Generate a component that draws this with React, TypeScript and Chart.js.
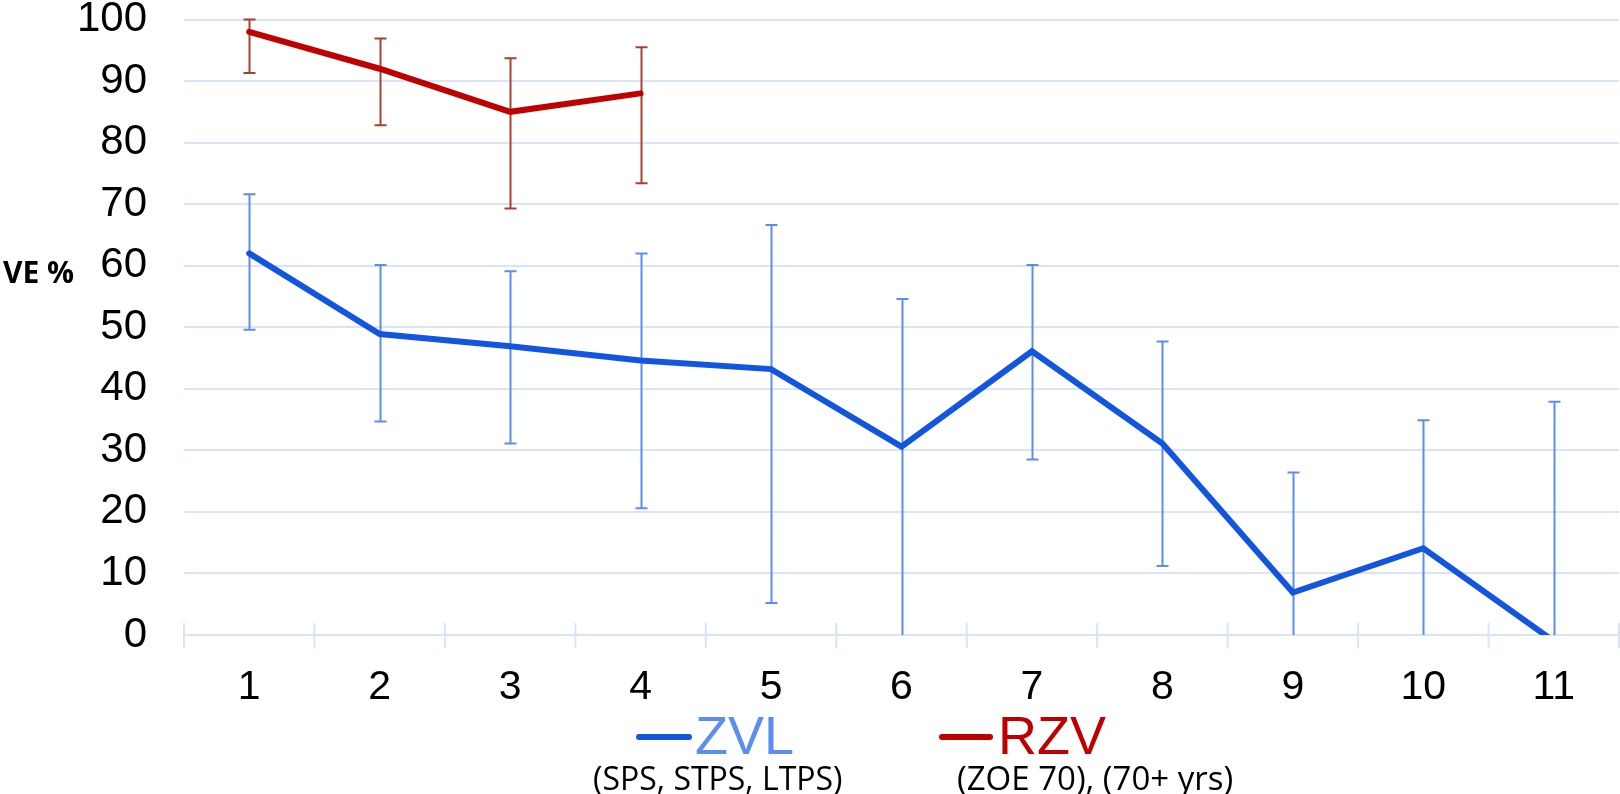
import React, { useEffect, useRef } from 'react';
import { Chart, registerables } from 'chart.js';

Chart.register(...registerables);

// ---- data ----
const categories = ['1', '2', '3', '4', '5', '6', '7', '8', '9', '10', '11'];

const zvlValues = [62.0, 48.9, 46.9, 44.6, 43.2, 30.6, 46.1, 31.1, 6.9, 14.1, -1.0];
const zvlHigh = [71.6, 60.1, 59.1, 62.0, 66.6, 54.6, 60.1, 47.7, 26.4, 34.9, 37.9];
const zvlLow = [49.6, 34.7, 31.1, 20.6, 5.2, -20, 28.5, 11.2, -20, -20, -20];

const rzvValues = [98.0, 92.0, 85.0, 88.0];
const rzvHigh = [100.0, 96.9, 93.7, 95.5];
const rzvLow = [91.3, 82.8, 69.3, 73.4];

const yMin = 0;
const yMax = 100;
const yStep = 10;

const yTitle = 'VE %';
const zvlName = 'ZVL';
const zvlNote = '(SPS, STPS, LTPS)';
const rzvName = 'RZV';
const rzvNote = '(ZOE 70), (70+ yrs)';

// ---- styles ----
const GRID = '#d9e4fb';
const BLUE = '#1256e0';
const BLUE_ERR = '#5b8def';
const LIGHT_BLUE_TEXT = '#5b8ef0';
const RED = '#c00000';
const RED_ERR = '#a8402e';
const SANS = "'Liberation Sans', Arial, sans-serif";
const OPEN = "'Open Sans', 'Noto Sans', sans-serif";

const errorBarPlugin = {
  id: 'errorBars',
  beforeDatasetsDraw(chart: any, _args: any, opts: any) {
    const { ctx, chartArea: a, scales } = chart;
    const x = scales.x;
    const y = scales.y;
    ctx.save();
    // x-axis tick marks straddling the baseline
    ctx.strokeStyle = GRID;
    ctx.lineWidth = 2;
    ctx.beginPath();
    for (let i = 0; i <= categories.length; i++) {
      const px = x.getPixelForValue(i - 0.5);
      ctx.moveTo(px, a.bottom - 12);
      ctx.lineTo(px, a.bottom + 13);
    }
    ctx.stroke();

    ctx.beginPath();
    ctx.rect(a.left, a.top - 4, a.right - a.left, a.bottom - a.top + 4);
    ctx.clip();
    for (const s of opts.series || []) {
      ctx.strokeStyle = s.color;
      ctx.lineWidth = 2;
      s.low.forEach((lo: number, i: number) => {
        const px = Math.round(x.getPixelForValue(i)) + 0.5;
        const yl = y.getPixelForValue(lo);
        const yh = y.getPixelForValue(s.high[i]);
        ctx.beginPath();
        ctx.moveTo(px, yl);
        ctx.lineTo(px, yh);
        ctx.moveTo(px - 6, yl);
        ctx.lineTo(px + 6, yl);
        ctx.moveTo(px - 6, yh);
        ctx.lineTo(px + 6, yh);
        ctx.stroke();
      });
    }
    ctx.restore();
  },
  afterDraw(chart: any) {
    const { ctx } = chart;
    ctx.save();
    // y title
    ctx.fillStyle = '#000';
    ctx.font = `bold 30px ${OPEN}`;
    ctx.textAlign = 'left';
    ctx.textBaseline = 'alphabetic';
    ctx.fillText(yTitle, 3, 283);

    // legend
    ctx.lineCap = 'round';
    ctx.lineWidth = 6;
    ctx.strokeStyle = BLUE;
    ctx.beginPath();
    ctx.moveTo(639, 737);
    ctx.lineTo(689, 737);
    ctx.stroke();
    ctx.strokeStyle = RED;
    ctx.beginPath();
    ctx.moveTo(942, 737);
    ctx.lineTo(990, 737);
    ctx.stroke();

    ctx.font = `54px ${SANS}`;
    ctx.fillStyle = LIGHT_BLUE_TEXT;
    ctx.fillText(zvlName, 695, 754);
    ctx.fillStyle = RED;
    ctx.fillText(rzvName, 998, 754);

    ctx.fillStyle = '#000';
    ctx.font = `32px ${OPEN}`;
    ctx.fillText(zvlNote, 593, 790);
    ctx.font = `33px ${OPEN}`;
    ctx.fillText(rzvNote, 957, 790);
    ctx.restore();
  },
};

export default function App() {
  const ref = useRef<HTMLCanvasElement | null>(null);

  useEffect(() => {
    if (!ref.current) return;
    const chart = new Chart(ref.current, {
      type: 'line',
      data: {
        labels: categories,
        datasets: [
          {
            label: zvlName,
            data: zvlValues,
            borderColor: BLUE,
            borderWidth: 6,
            pointRadius: 0,
            borderCapStyle: 'round',
            borderJoinStyle: 'miter',
            tension: 0,
            clip: 0,
          },
          {
            label: rzvName,
            data: [...rzvValues, ...Array(categories.length - rzvValues.length).fill(null)],
            borderColor: RED,
            borderWidth: 6,
            pointRadius: 0,
            borderCapStyle: 'round',
            borderJoinStyle: 'miter',
            tension: 0,
            clip: 6,
          },
        ],
      },
      options: {
        animation: false,
        responsive: false,
        devicePixelRatio: 1,
        layout: { padding: { left: 0, right: 1, top: 0, bottom: 0 } },
        plugins: {
          legend: { display: false },
          tooltip: { enabled: false },
          errorBars: {
            series: [
              { low: zvlLow, high: zvlHigh, color: BLUE_ERR },
              { low: rzvLow, high: rzvHigh, color: RED_ERR },
            ],
          },
        } as any,
        scales: {
          x: {
            type: 'category',
            offset: true,
            grid: { display: false },
            border: { display: false },
            ticks: {
              color: '#000',
              font: { family: SANS, size: 41, lineHeight: 1 },
              padding: 24,
              maxRotation: 0,
              autoSkip: false,
            },
            afterFit: (s: any) => {
              s.height = 159;
            },
          },
          y: {
            min: yMin,
            max: yMax,
            grid: { color: GRID, lineWidth: 2, drawTicks: false },
            border: { display: false },
            ticks: {
              stepSize: yStep,
              color: '#000',
              font: { family: SANS, size: 42, lineHeight: 1 },
              padding: 37,
            },
            afterFit: (s: any) => {
              s.width = 184;
              s.paddingTop = 19.5;
              s.paddingBottom = 0;
            },
          },
        },
      },
      plugins: [errorBarPlugin],
    } as any);
    return () => chart.destroy();
  }, []);

  return (
    <div style={{ position: 'fixed', left: 0, top: 0, width: 1620, height: 794, background: '#fff' }}>
      <canvas ref={ref} width={1620} height={794} style={{ width: 1620, height: 794, display: 'block' }} />
    </div>
  );
}
